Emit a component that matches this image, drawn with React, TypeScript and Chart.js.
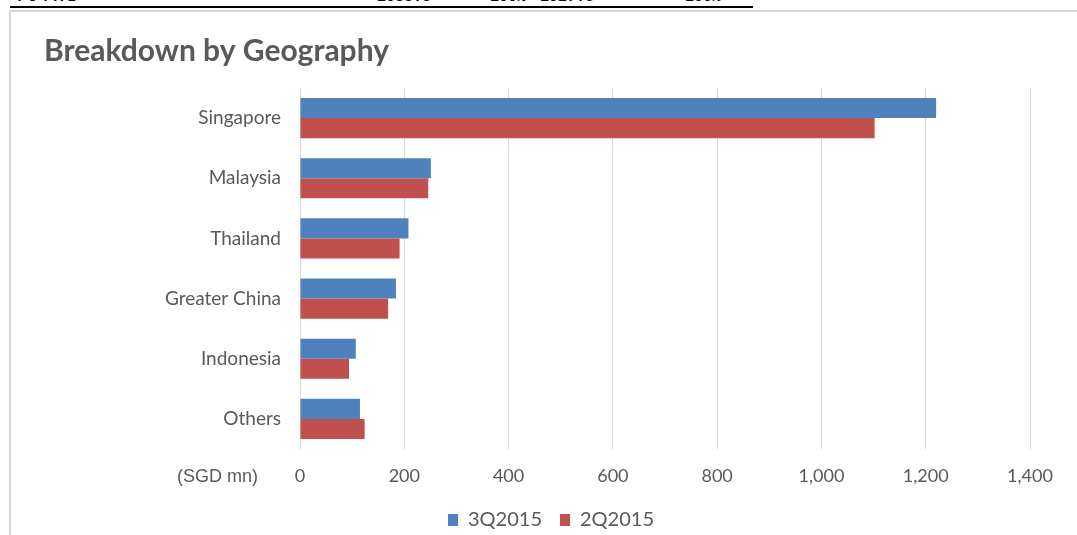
import React, { useEffect, useRef } from "react";
import { Chart, registerables } from "chart.js";

Chart.register(...registerables);

const categories = ["Singapore", "Malaysia", "Thailand", "Greater China", "Indonesia", "Others"];
const q3_2015 = [1220, 251, 208, 184, 107, 115];
const q2_2015 = [1102, 246, 191, 169, 94, 124];
const seriesNames = ["3Q2015", "2Q2015"];
const xTicksMax = 1400;
const xTicksStep = 200;
const unitLabel = "(SGD mn)";
const titleText = "Breakdown by Geography";
const totalRow = ["TOTAL", "2083.5", "100%", "1927.5", "100%"];

const GRAY = "#595959";
const FONT = "Lato, 'Open Sans', sans-serif";

export default function App() {
  const ref = useRef<HTMLCanvasElement | null>(null);

  useEffect(() => {
    const canvas = ref.current;
    if (!canvas) return;
    const textPlugin = {
      id: "extraText",
      afterDraw(chart: any) {
        const { ctx, chartArea } = chart;
        ctx.save();
        ctx.fillStyle = GRAY;
        ctx.font = `bold 30px ${FONT}`;
        ctx.textAlign = "left";
        ctx.textBaseline = "middle";
        ctx.fillText(titleText, 33, 39);
        ctx.font = `18px 'Liberation Sans', Arial, sans-serif`;
        ctx.textAlign = "right";
        ctx.fillText(unitLabel, chartArea.left - 42, chartArea.bottom + 28);
        ctx.restore();
      },
    };
    const chart = new Chart(canvas, {
      type: "bar",
      data: {
        labels: categories,
        datasets: [
          {
            label: seriesNames[0],
            data: q3_2015,
            backgroundColor: "#4F81BD",
            categoryPercentage: 0.667,
            barPercentage: 1,
          },
          {
            label: seriesNames[1],
            data: q2_2015,
            backgroundColor: "#C0504D",
            categoryPercentage: 0.667,
            barPercentage: 1,
          },
        ],
      },
      options: {
        indexAxis: "y",
        responsive: false,
        animation: false,
        devicePixelRatio: 1,
        layout: { padding: { left: 61, right: 47, top: 76, bottom: 0 } },
        plugins: {
          title: { display: false },
          legend: {
            position: "bottom",
            labels: {
              boxWidth: 10,
              boxHeight: 12,
              padding: 18,
              color: GRAY,
              font: { family: FONT, size: 20 },
            },
          },
          tooltip: { enabled: false },
        },
        scales: {
          x: {
            min: 0,
            max: xTicksMax,
            ticks: {
              stepSize: xTicksStep,
              color: GRAY,
              padding: 16,
              font: { family: FONT, size: 18 },
            },
            grid: { color: "#d9d9d9", drawTicks: false },
            border: { display: false },
            afterFit(scale: any) {
              scale.height = 43;
            },
          },
          y: {
            ticks: {
              color: GRAY,
              padding: 19,
              font: { family: FONT, size: 19 },
            },
            grid: { display: false, drawTicks: false },
            border: { display: false },
            afterFit(scale: any) {
              scale.width = 228;
            },
          },
        },
      },
      plugins: [textPlugin],
    } as any);
    return () => chart.destroy();
  }, []);

  return (
    <div
      style={{
        position: "fixed",
        left: 0,
        top: 0,
        width: 1077,
        height: 535,
        overflow: "hidden",
        background: "#fff",
      }}
    >
      <div
        style={{
          position: "absolute",
          left: 10,
          top: -10,
          width: 743,
          height: 16,
          fontFamily: "'Liberation Mono', 'Courier New', monospace",
          fontWeight: "bold",
          fontSize: 15,
          lineHeight: "16px",
          color: "#000",
          borderBottom: "2px solid #000",
        }}
      >
        <span style={{ position: "absolute", left: 5, letterSpacing: 4 }}>{totalRow[0]}</span>
        <span style={{ position: "absolute", left: 367 }}>{totalRow[1]}</span>
        <span style={{ position: "absolute", left: 480 }}>{totalRow[2]}</span>
        <span style={{ position: "absolute", left: 530 }}>{totalRow[3]}</span>
        <span style={{ position: "absolute", left: 675 }}>{totalRow[4]}</span>
      </div>
      <div
        style={{
          position: "absolute",
          left: 9,
          top: 10,
          width: 1100,
          height: 600,
          borderLeft: "2px solid #d9d9d9",
          borderTop: "2px solid #d9d9d9",
        }}
      >
        <canvas ref={ref} width={1066} height={528} style={{ display: "block" }} />
      </div>
    </div>
  );
}
